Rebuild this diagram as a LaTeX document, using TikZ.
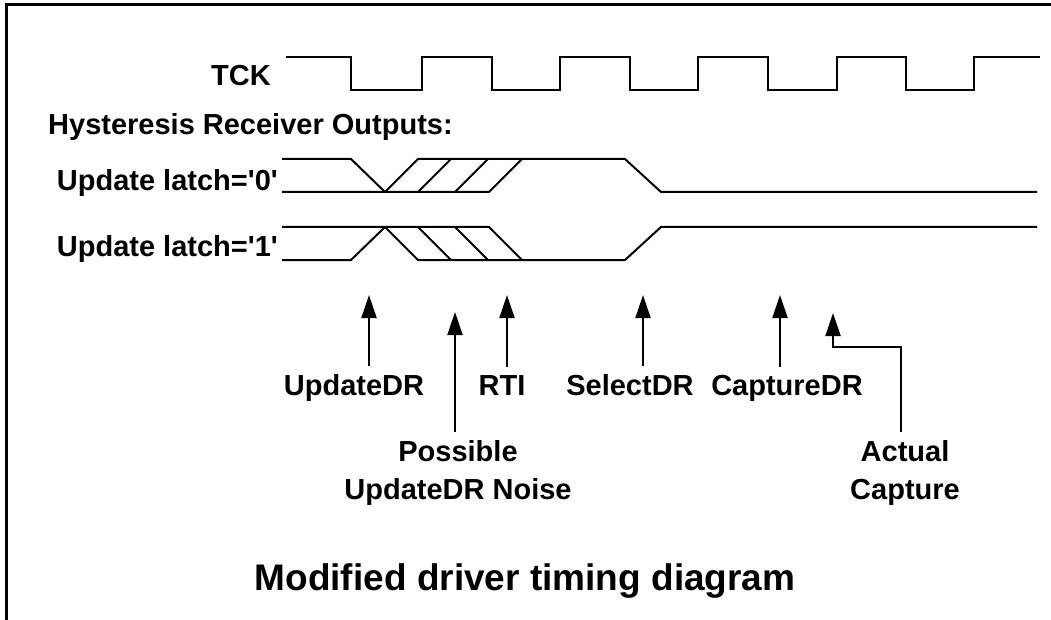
\documentclass[tikz,border=0pt]{standalone}
\usepackage{fontspec}
\setmainfont{Liberation Sans}[Ligatures=TeXOff]
\usetikzlibrary{arrows.meta}

\begin{document}
\begin{tikzpicture}[x=1pt,y=-1pt]
  \useasboundingbox (0,0) rectangle (1051,620);
  % open frame, top and left side only
  \draw[line width=3pt] (6,620) -- (6,5) -- (1051,5);

  \begin{scope}[line width=2pt]
    % clock
    \draw (286,57) \foreach \f/\r in {351/422,492/560,630/698,768/837,906/974}
      { -- (\f,57) -- (\f,90) -- (\r,90) -- (\r,57) } -- (1040,57);
    % latch = '0'
    \draw (282,159) -- (351,159) -- (385,192);
    \draw (282,192) -- (489,192) -- (522,159);
    \draw (385,192) -- (418,159) -- (625,159) -- (661,192) -- (1037,192);
    \foreach \x in {418,455} \draw (\x,192) -- ++(33,-33);
    % latch = '1'
    \draw (282,260) -- (351,260) -- (385,227);
    \draw (282,227) -- (489,227) -- (522,260);
    \draw (385,227) -- (418,260) -- (625,260) -- (661,227) -- (1037,227);
    \foreach \x in {418,455} \draw (\x,227) -- ++(33,33);
  \end{scope}

  \begin{scope}[every node/.style={font=\bfseries\fontsize{29}{38}\selectfont, inner sep=1pt}]
    \node[anchor=base east] (tck) at (272,86) {TCK};
    \node[anchor=base west] (hyst) at (47,135) {Hysteresis Receiver Outputs:};
    \node[anchor=base east] (latch0) at (279,191) {Update latch='0'};
    \node[anchor=base east] (latch1) at (279,257) {Update latch='1'};
    \node[anchor=base] (upd) at (354,395) {UpdateDR};
    \node[anchor=base] (rti) at (502,395) {RTI};
    \node[anchor=base] (sel) at (630,395) {SelectDR};
    \node[anchor=base] (cap) at (787,395) {CaptureDR};
    \node[anchor=north, align=center] (noise) at (458,439) {Possible\\UpdateDR Noise};
    \node[anchor=north, align=center] (actual) at (905,439) {Actual\\Capture};
    \node[anchor=base, font=\bfseries\fontsize{37}{40}\selectfont] (title) at (525,590)
      {Modified driver timing diagram};
  \end{scope}

  \coordinate (updTip) at (369,295);
  \coordinate (noiseTip) at (455,312);
  \coordinate (rtiTip) at (507,295);
  \coordinate (selTip) at (643,295);
  \coordinate (capTip) at (780,295);
  \coordinate (actTip) at (833,313);
  \coordinate (actBend) at (901,347);

  \begin{scope}[every edge/.style={draw=black, line width=2pt, shorten <=7pt,
      -{Triangle[length=23pt,width=15pt]}}]
    \path (updTip |- upd.north) edge (updTip);
    \path (noiseTip |- noise.north) edge (noiseTip);
    \path (rtiTip |- rti.north) edge (rtiTip);
    \path (selTip |- sel.north) edge (selTip);
    \path (capTip |- cap.north) edge (capTip);
  \end{scope}
  \draw[line width=2pt, shorten <=7pt, -{Triangle[length=23pt,width=15pt]}]
    (actBend |- actual.north) -- (actBend) -| (actTip);
\end{tikzpicture}
\end{document}
